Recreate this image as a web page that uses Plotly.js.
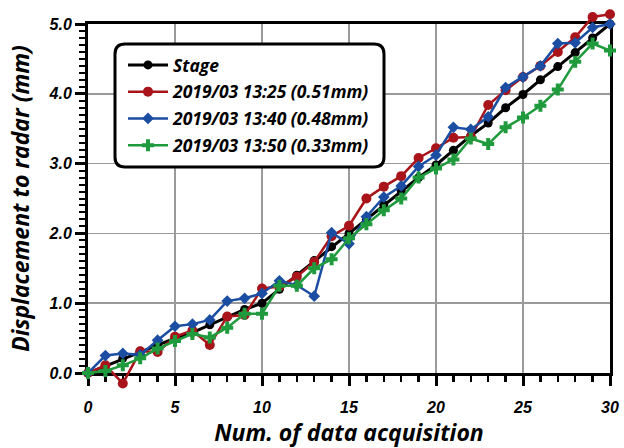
<!DOCTYPE html>
<html><head><meta charset="utf-8">
<script src="https://cdn.plot.ly/plotly-3.0.1.min.js"></script>
<style>html,body{margin:0;padding:0;background:#fff}#chart{width:624px;height:448px}</style>
</head><body><div id="chart"></div>
<script>
// ---- data ----
const acquisition = [0,1,2,3,4,5,6,7,8,9,10,11,12,13,14,15,16,17,18,19,20,21,22,23,24,25,26,27,28,29,30];
const stage   = [0,0.10,0.21,0.31,0.40,0.50,0.58,0.69,0.80,0.91,1.00,1.20,1.40,1.61,1.81,2.00,2.20,2.41,2.61,2.80,2.98,3.19,3.40,3.58,3.80,3.99,4.20,4.39,4.59,4.80,5.00];
const s1325   = [0,0.11,-0.15,0.31,0.30,0.52,0.61,0.40,0.81,0.83,1.21,1.24,1.38,1.59,1.96,2.11,2.50,2.67,2.82,3.08,3.22,3.37,3.38,3.84,4.05,4.24,4.40,4.60,4.81,5.10,5.14];
const s1340   = [0,0.25,0.28,0.26,0.47,0.67,0.70,0.76,1.03,1.07,1.14,1.32,1.26,1.10,2.01,1.85,2.24,2.52,2.68,2.96,3.12,3.52,3.49,3.67,4.09,4.24,4.40,4.72,4.73,4.95,5.00];
const s1350   = [0,0.03,0.11,0.21,0.35,0.46,0.56,0.51,0.65,0.85,0.85,1.25,1.25,1.50,1.63,1.93,2.13,2.33,2.50,2.80,2.93,3.06,3.36,3.28,3.52,3.66,3.83,4.06,4.46,4.72,4.62];
const seriesNames = ['Stage','2019/03 13:25 (0.51mm)','2019/03 13:40 (0.48mm)','2019/03 13:50 (0.33mm)'];
const yTicks = [0,1,2,3,4,5];
const xTicks = [0,5,10,15,20,25,30];

// ---- geometry ----
const W=624,H=448, mL=88, mR=14, mT=10, mB=60;
const plotTopPx=24, plotBotPx=373;
const paperH = H-mT-mB, paperW = W-mL-mR;
const dom0 = (H-mB-plotBotPx)/paperH, dom1 = (H-mB-plotTopPx)/paperH;
const upp = 5/(plotBotPx-plotTopPx);
const y2lo = -(H-mB-plotBotPx)*upp, y2hi = 5 + (plotTopPx-mT)*upp;

const colors = ['#000000','#a8141a','#1b4ea3','#1f9a3c'];
const symbols = ['circle','circle','diamond','cross'];
const sizes = [9,10,9,10];
const widths = [3,2.5,2.5,2.5];
const ys = [stage,s1325,s1340,s1350];

// empty trace so the framed main axes get drawn
const axisHolder = {type:'scatter', x:[], y:[], xaxis:'x', yaxis:'y', showlegend:false, hoverinfo:'skip'};

const traces = [axisHolder].concat(ys.map((y,i)=>({
  type:'scatter', mode:'lines+markers', x:acquisition, y:y, name:seriesNames[i],
  xaxis:'x2', yaxis:'y2', cliponaxis:false, legendgroup:'g'+i,
  line:{color:colors[i], width:widths[i]},
  marker:{color:colors[i], symbol:symbols[i], size:sizes[i]}
})));

const tickFont = {family:'Liberation Sans, Arial, sans-serif', size:16, weight:'bold', style:'italic', color:'#000'};
const titleFont = {family:'Open Sans, sans-serif', size:23, weight:'bold', style:'italic', color:'#000'};

// rounded legend frame (paper coords)
const bx0=(115-mL)/paperW, bx1=(384-mL)/paperW, byT=(H-mB-44)/paperH, byB=(H-mB-167)/paperH;
const rx=10/paperW, ry=10/paperH;
const path = `M ${bx0+rx},${byT} L ${bx1-rx},${byT} Q ${bx1},${byT} ${bx1},${byT-ry} L ${bx1},${byB+ry} Q ${bx1},${byB} ${bx1-rx},${byB} L ${bx0+rx},${byB} Q ${bx0},${byB} ${bx0},${byB+ry} L ${bx0},${byT-ry} Q ${bx0},${byT} ${bx0+rx},${byT} Z`;

const layout = {
  width:W, height:H, margin:{l:mL,r:mR,t:mT,b:mB},
  paper_bgcolor:'#fff', plot_bgcolor:'rgba(0,0,0,0)',
  showlegend:true,
  xaxis:{domain:[0,1], range:[0,30], anchor:'y', tickvals:xTicks, ticktext:xTicks.map(String),
    showline:true, linewidth:3, linecolor:'#000', mirror:true,
    ticks:'outside', ticklen:10, tickwidth:3, tickcolor:'#000', ticklabelstandoff:8,
    minor:{dtick:1, tick0:0, ticks:'outside', ticklen:6, tickwidth:2.5, tickcolor:'#000', showgrid:false},
    showgrid:true, gridcolor:'#9a9a9a', gridwidth:1.5, zeroline:false,
    tickfont:tickFont, title:{text:'Num. of data acquisition', font:titleFont, standoff:14}},
  yaxis:{domain:[dom0,dom1], range:[0,5], anchor:'x', tickvals:yTicks, ticktext:yTicks.map(v=>v.toFixed(1)),
    showline:true, linewidth:3, linecolor:'#000', mirror:true,
    ticks:'outside', ticklen:10, tickwidth:3, tickcolor:'#000',
    minor:{dtick:0.1, tick0:0, ticks:'outside', ticklen:6, tickwidth:2, tickcolor:'#000', showgrid:false},
    showgrid:true, gridcolor:'#9a9a9a', gridwidth:1.5, zeroline:false,
    tickfont:tickFont, title:{text:'Displacement to radar (mm)', font:titleFont, standoff:13}},
  xaxis2:{domain:[0,1], range:[0,30], anchor:'y2', visible:false},
  yaxis2:{domain:[0,1], range:[y2lo,y2hi], anchor:'x2', visible:false},
  legend:{x:(123-mL)/paperW, y:(H-mB-47)/paperH, xanchor:'left', yanchor:'top',
    bgcolor:'rgba(0,0,0,0)', borderwidth:0, itemwidth:40, tracegroupgap:1, traceorder:'grouped',
    font:{family:'Open Sans, sans-serif', size:17.5, weight:'bold', style:'italic', color:'#000'}},
  shapes:[{type:'path', xref:'paper', yref:'paper', path:path, fillcolor:'#fff', line:{color:'#000', width:3}, layer:'above'}]
};

Plotly.newPlot('chart', traces, layout, {displayModeBar:false, staticPlot:true});
</script>
</body></html>
